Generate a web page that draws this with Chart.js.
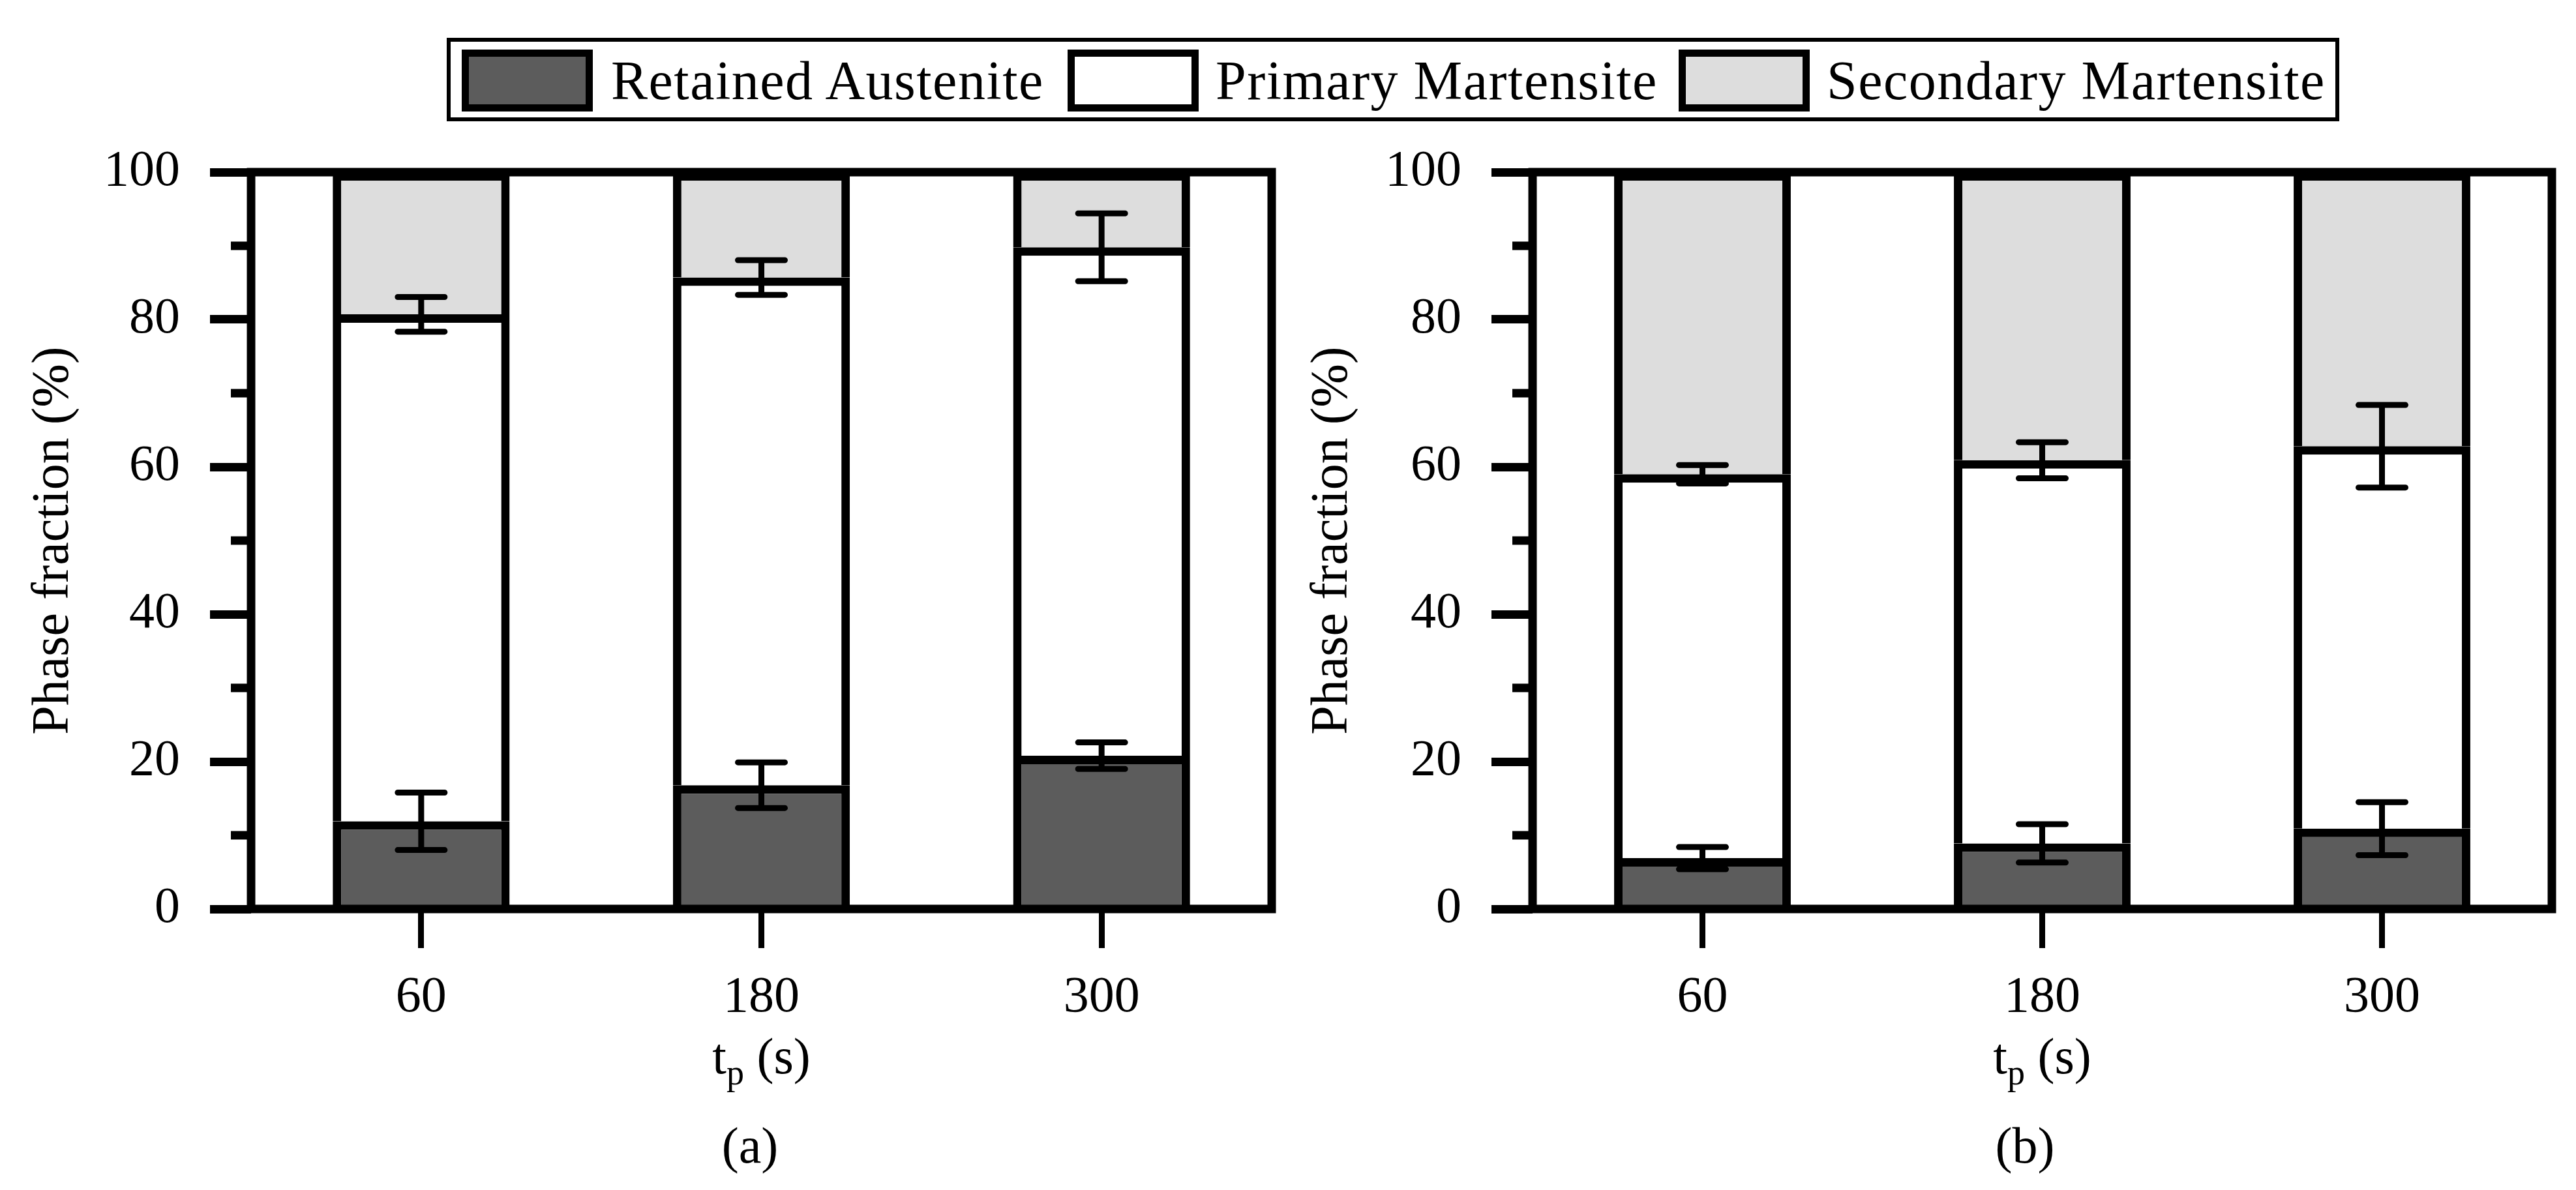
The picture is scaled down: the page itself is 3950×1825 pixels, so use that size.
<!DOCTYPE html>
<html><head><meta charset="utf-8">
<script src="https://cdn.jsdelivr.net/npm/chart.js@4/dist/chart.umd.min.js"></script>
<style>
html,body{margin:0;padding:0;background:#fff;}
body{width:3950px;height:1825px;position:relative;overflow:hidden;font-family:"Liberation Serif","DejaVu Serif",serif;}
canvas{position:absolute;top:0;}
#legendBox{position:absolute;left:685px;top:58px;width:2902px;height:128px;border:6px solid #000;box-sizing:border-box;}
.sw{position:absolute;top:76px;width:201px;height:95px;border:11px solid #000;box-sizing:border-box;}
.lt{position:absolute;top:76px;height:95px;line-height:95px;font-size:84px;letter-spacing:1.5px;color:#000;white-space:nowrap;}
.panel{position:absolute;top:1712px;font-size:78px;color:#000;transform:translateX(-50%);line-height:90px;}
</style></head>
<body>
<canvas id="cA" width="1975" height="1825" style="left:0px;width:1975px;height:1825px;"></canvas>
<canvas id="cB" width="1975" height="1825" style="left:1975px;width:1975px;height:1825px;"></canvas>
<div id="legendBox"></div>
<div id="legend"></div>
<div class="panel" id="pa" style="left:1150px;"></div>
<div class="panel" id="pb" style="left:3105px;"></div>
<script>
// ---------- data ----------
const categories = ['60', '180', '300'];
const seriesNames = ['Retained Austenite', 'Primary Martensite', 'Secondary Martensite'];
const seriesColors = ['#5c5c5c', '#ffffff', '#dddddd'];

const retainedA = [11.9, 16.8, 20.8];
const primaryA = [68.8, 68.9, 69.0];
const secondaryA = [19.3, 14.3, 10.2];
const retainedErrA = [3.9, 3.1, 1.8];
const primaryErrA = [2.35, 2.35, 4.6];

const retainedB = [6.9, 8.9, 10.9];
const primaryB = [52.1, 52.0, 51.9];
const secondaryB = [41.0, 39.1, 37.2];
const retainedErrB = [1.5, 2.6, 3.6];
const primaryErrB = [1.25, 2.45, 5.6];

const yMinorTicks = [10, 30, 50, 70, 90];
const yTitle = 'Phase fraction (%)';
const xTitleMain = 't', xTitleSub = 'p', xTitleRest = ' (s)';
const panelLabels = ['(a)', '(b)'];

// ---------- legend / panel labels (HTML text) ----------
const swLeft = [708, 1637, 2574];
const txtLeft = [937, 1864, 2801];
const lg = document.getElementById('legend');
seriesNames.forEach((n, i) => {
  const s = document.createElement('div');
  s.className = 'sw'; s.style.left = swLeft[i] + 'px'; s.style.background = seriesColors[i];
  lg.appendChild(s);
  const t = document.createElement('div');
  t.className = 'lt'; t.style.left = txtLeft[i] + 'px'; t.textContent = n;
  lg.appendChild(t);
});
document.getElementById('pa').textContent = panelLabels[0];
document.getElementById('pb').textContent = panelLabels[1];

const FONT = "'Liberation Serif', 'DejaVu Serif', serif";
const LW = 13;

const errorBarPlugin = {
  id: 'errbars',
  afterDatasetsDraw(chart, args, opts) {
    const ctx = chart.ctx, y = chart.scales.y;
    const errs = opts.errs || [];
    ctx.save();
    ctx.strokeStyle = '#000'; ctx.lineWidth = 9; ctx.lineCap = 'round';
    errs.forEach((errArr, di) => {
      if (!errArr) return;
      const meta = chart.getDatasetMeta(di);
      meta.data.forEach((bar, j) => {
        let cum = 0;
        for (let k = 0; k <= di; k++) cum += chart.data.datasets[k].data[j];
        const e = errArr[j];
        const yHi = y.getPixelForValue(cum + e), yLo = y.getPixelForValue(cum - e);
        const hw = 36;
        ctx.beginPath();
        ctx.moveTo(bar.x, yHi); ctx.lineTo(bar.x, yLo);
        ctx.moveTo(bar.x - hw, yHi); ctx.lineTo(bar.x + hw, yHi);
        ctx.moveTo(bar.x - hw, yLo); ctx.lineTo(bar.x + hw, yLo);
        ctx.stroke();
      });
    });
    ctx.restore();
  }
};

const framePlugin = {
  id: 'frame',
  afterDraw(chart) {
    const ctx = chart.ctx, a = chart.chartArea, y = chart.scales.y;
    ctx.save();
    ctx.strokeStyle = '#000'; ctx.lineWidth = LW;
    ctx.strokeRect(a.left, a.top, a.right - a.left, a.bottom - a.top);
    ctx.beginPath();
    yMinorTicks.forEach(v => {
      const py = y.getPixelForValue(v);
      ctx.moveTo(a.left - 31, py); ctx.lineTo(a.left, py);
    });
    ctx.stroke();
    // x title with subscript
    const big = "78px " + FONT, small = "54px " + FONT;
    ctx.fillStyle = '#000'; ctx.textBaseline = 'alphabetic'; ctx.textAlign = 'left';
    ctx.font = big; const w1 = ctx.measureText(xTitleMain).width, w3 = ctx.measureText(xTitleRest).width;
    ctx.font = small; const w2 = ctx.measureText(xTitleSub).width;
    let x0 = (a.left + a.right) / 2 - (w1 + w2 + w3) / 2;
    const base = a.bottom + 252;
    ctx.font = big; ctx.fillText(xTitleMain, x0, base);
    ctx.font = small; ctx.fillText(xTitleSub, x0 + w1, base + 17);
    ctx.font = big; ctx.fillText(xTitleRest, x0 + w1 + w2, base);
    ctx.restore();
  }
};

function makeChart(id, ra, pm, sm, raErr, pmErr, yWidth, titlePad, padRight) {
  const data = [ra, pm, sm];
  return new Chart(document.getElementById(id), {
    type: 'bar',
    data: {
      labels: categories,
      datasets: seriesNames.map((n, i) => ({
        label: n,
        data: data[i],
        backgroundColor: seriesColors[i],
        borderColor: '#000',
        borderWidth: LW,
        borderSkipped: 'start',
        barPercentage: 0.52,
        categoryPercentage: 1.0
      }))
    },
    options: {
      responsive: false,
      animation: false,
      devicePixelRatio: 1,
      layout: { padding: { left: 0, top: 264, right: padRight, bottom: 0 } },
      plugins: {
        legend: { display: false },
        tooltip: { enabled: false },
        errbars: { errs: [raErr, pmErr, null] }
      },
      scales: {
        x: {
          stacked: true,
          offset: true,
          border: { display: false },
          grid: { offset: false, drawOnChartArea: false, drawTicks: true, tickLength: 60, tickWidth: 9, tickColor: '#000' },
          ticks: { color: '#000', font: { family: FONT, size: 78 }, padding: 30, maxRotation: 0 },
          afterFit(scale) { scale.height = 431; }
        },
        y: {
          stacked: true,
          min: 0, max: 100,
          border: { display: false },
          grid: { drawOnChartArea: false, drawTicks: true, tickLength: 63, tickWidth: LW, tickColor: '#000' },
          ticks: { stepSize: 20, color: '#000', font: { family: FONT, size: 78 }, padding: 46 },
          title: { display: true, text: yTitle, color: '#000', font: { family: FONT, size: 80 }, padding: { top: titlePad, bottom: 0 } },
          afterFit(scale) { scale.width = yWidth; }
        }
      }
    },
    plugins: [errorBarPlugin, framePlugin]
  });
}

makeChart('cA', retainedA, primaryA, secondaryA, retainedErrA, primaryErrA, 385, 35, 25);
makeChart('cB', retainedB, primaryB, secondaryB, retainedErrB, primaryErrB, 375, 21, 37);
</script>
</body></html>
